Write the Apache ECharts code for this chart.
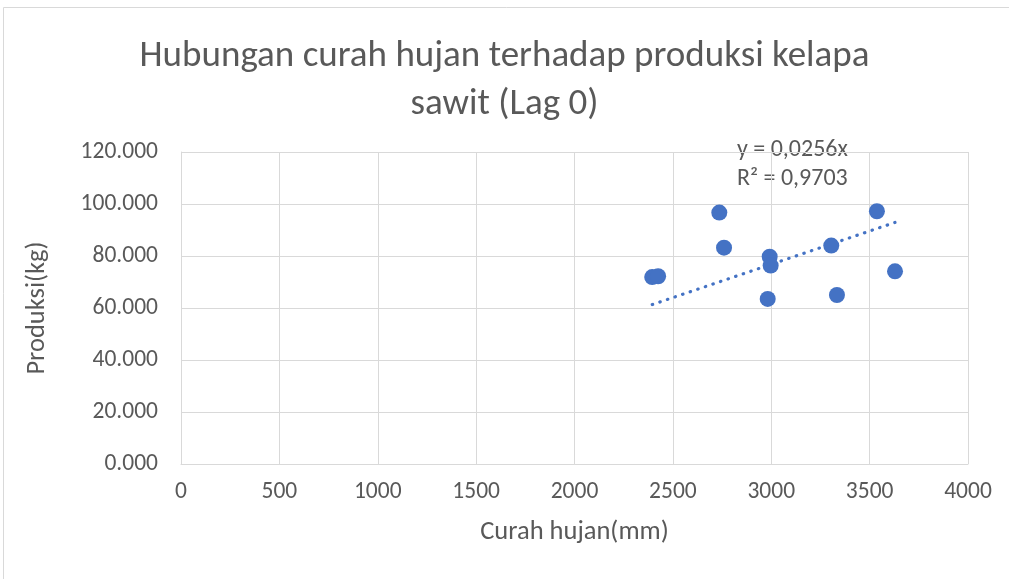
<!DOCTYPE html>
<html>
<head>
<meta charset="utf-8">
<script src="https://cdn.jsdelivr.net/npm/echarts@6/dist/echarts.min.js"></script>
<style>
  html, body { margin: 0; padding: 0; background: #fff; }
  #main { width: 1009px; height: 579px; }
</style>
</head>
<body>
<div id="main"></div>
<script>
// curah hujan (mm) vs produksi
const rainfall = [2395, 2425, 2736, 2760, 2992, 2997, 2982, 3305, 3334, 3537, 3629];
const production = [71.9, 72.2, 96.7, 83.2, 79.7, 76.3, 63.5, 84.0, 65.0, 97.2, 74.1];
const trendSlope = 0.0256;
const trendLabel = ["y = 0,0256x", "R² = 0,9703"];
const titleLines = ["Hubungan curah hujan terhadap produksi kelapa", "sawit (Lag 0)"];

const font = "Carlito, Calibri, 'Liberation Sans', sans-serif";
const blue = "#4472C4";
const grey = "#D9D9D9";
const textGrey = "#595959";

const xMin = Math.min(...rainfall);
const xMax = Math.max(...rainfall);
const trendData = [[xMin, trendSlope * xMin], [xMax, trendSlope * xMax]];

const chartDom = document.getElementById("main");
const myChart = echarts.init(chartDom);

const option = {
  animation: false,
  title: {
    text: titleLines.join("\n"),
    left: "center",
    top: 28,
    textStyle: { fontFamily: font, fontSize: 37, fontWeight: "normal", color: textGrey, lineHeight: 48 },
  },
  grid: { left: 181, right: 41, top: 152, bottom: 115 },
  xAxis: {
    type: "value",
    min: 0,
    max: 4000,
    interval: 500,
    name: "Curah hujan(mm)",
    nameLocation: "middle",
    nameGap: 55,
    nameTextStyle: { fontFamily: font, fontSize: 26.5, color: textGrey },
    axisLine: { show: true, lineStyle: { color: grey } },
    axisTick: { show: false },
    axisLabel: { fontFamily: font, fontSize: 23.5, color: textGrey, margin: 16, formatter: (v) => String(v) },
    splitLine: { show: true, lineStyle: { color: grey, width: 1 } },
  },
  yAxis: {
    type: "value",
    min: 0,
    max: 120,
    interval: 20,
    name: "Produksi(kg)",
    nameLocation: "middle",
    nameRotate: 90,
    nameGap: 130,
    nameTextStyle: { fontFamily: font, fontSize: 26.5, color: textGrey },
    axisLine: { show: true, lineStyle: { color: grey } },
    axisTick: { show: false },
    axisLabel: {
      fontFamily: font, fontSize: 23.5, color: textGrey, margin: 23,
      formatter: (v) => v.toFixed(3),
    },
    splitLine: { show: true, lineStyle: { color: grey, width: 1 } },
  },
  graphic: [
    {
      type: "polyline",
      shape: { points: [[3.5, 579], [3.5, 7.5], [1009, 7.5]] },
      style: { stroke: grey, lineWidth: 1, fill: null },
      silent: true,
    },
    {
      type: "text",
      left: 737,
      top: 135,
      style: {
        text: trendLabel.join("\n"),
        font: "24px " + font,
        fill: textGrey,
        lineHeight: 29,
      },
    },
  ],
  series: [
    {
      type: "line",
      data: trendData,
      symbol: "none",
      lineStyle: { color: blue, width: 3.2, type: [0.5, 7.5], cap: "round" },
      z: 1,
    },
    {
      type: "scatter",
      data: rainfall.map((x, i) => [x, production[i]]),
      symbolSize: 16,
      itemStyle: { color: blue, opacity: 1 },
      z: 2,
    },
  ],
};

myChart.setOption(option);
</script>
</body>
</html>
